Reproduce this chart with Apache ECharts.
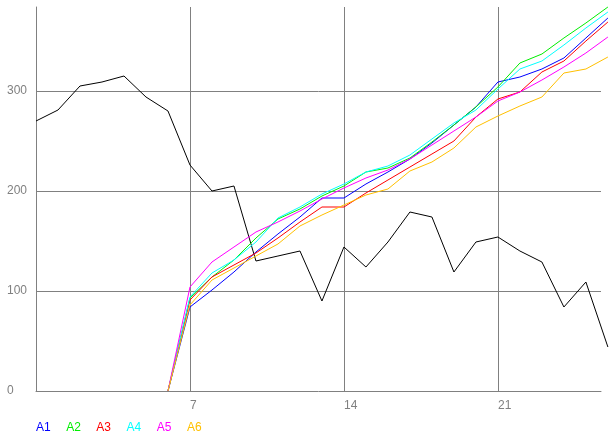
<!DOCTYPE html>
<html>
<head>
<meta charset="utf-8">
<script src="https://cdn.jsdelivr.net/npm/echarts@6/dist/echarts.min.js"></script>
<style>
html,body{margin:0;padding:0;background:#ffffff;}
#chart{width:614px;height:440px;}
</style>
</head>
<body>
<div id="chart"></div>
<script>
const days = [0,1,2,3,4,5,6,7,8,9,10,11,12,13,14,15,16,17,18,19,20,21,22,23,24,25,26];
const blackSeries = [270,281,305,309,315,294,280,226,200,205,130,135,140,90,144,124,149,179,174,119,149,154,140,129,84,109,44];
const A1 = [null,null,null,null,null,null,0,84,101,119,139,157,174,193,193,207,219,232,248,266,284,309,314,322,333,353,373];
const A2 = [null,null,null,null,null,null,0,93,114,131,153,172,182,195,205,219,223,233,249,266,284,304,328,337,353,368,384];
const A3 = [null,null,null,null,null,null,0,91,114,126,138,153,169,184,184,198,211,224,237,250,274,292,299,319,330,350,369];
const A4 = [null,null,null,null,null,null,0,94,118,131,149,173,184,197,207,219,225,236,252,268,281,302,322,330,346,363,379];
const A5 = [null,null,null,null,null,null,0,104,129,144,159,169,180,192,203,213,221,232,246,260,274,290,299,311,324,338,354];
const A6 = [null,null,null,null,null,null,0,86,111,123,135,147,165,176,186,196,202,220,229,243,264,275,285,294,318,322,334];
const seriesNames = ['A1','A2','A3','A4','A5','A6'];
const seriesColors = ['#0000ff','#00ee00','#ff0000','#00ffff','#ff00ff','#ffc000'];
const xTickLabels = [7,14,21];
const yTickLabels = [0,100,200,300];

const colored = [A1,A2,A3,A4,A5,A6];
const toPairs = arr => days.map((d,i) => [d, arr[i]]);

const chart = echarts.init(document.getElementById('chart'), null, {renderer:'canvas'});
const gray = '#808080';
const font = 'Liberation Sans, Arial, sans-serif';
const series = [{
  name: 'B', type: 'line', data: toPairs(blackSeries), showSymbol: false, clip: false,
  xAxisIndex: 1, yAxisIndex: 1,
  lineStyle: {color: '#000000', width: 1}, itemStyle: {color: '#000000'}, silent: true, z: 1
}];
colored.forEach((arr, k) => {
  series.push({
    name: seriesNames[k], type: 'line', data: toPairs(arr), showSymbol: false, clip: false,
    xAxisIndex: 1, yAxisIndex: 1, connectNulls: false, z: 2,
    lineStyle: {color: seriesColors[k], width: 1}, itemStyle: {color: seriesColors[k]}, silent: true
  });
});

chart.setOption({
  animation: false,
  backgroundColor: '#ffffff',
  grid: [
    {left: 36, right: 13, top: 7, bottom: 49, containLabel: false},
    {left: 36, right: 5, top: 7, bottom: 49, containLabel: false}
  ],
  legend: {
    left: 26, top: 416, itemWidth: 0, itemHeight: 14, itemGap: 10.5,
    icon: 'rect', selectedMode: false,
    itemStyle: {opacity: 0}, lineStyle: {opacity: 0},
    textStyle: {fontSize: 12, fontFamily: font},
    data: seriesNames.map((n,k) => ({name: n, textStyle: {color: seriesColors[k]}}))
  },
  xAxis: [{
    gridIndex: 0, type: 'value', min: 0, max: 25.68, interval: 7,
    axisLine: {show: true, lineStyle: {color: gray, width: 1}},
    axisTick: {show: false},
    splitLine: {show: true, showMinLine: false, showMaxLine: false, lineStyle: {color: gray, width: 1}},
    axisLabel: {
      show: true, color: gray, fontSize: 12, fontFamily: font,
      align: 'left', margin: 9, showMinLabel: false, showMaxLabel: false,
      formatter: v => xTickLabels.indexOf(v) >= 0 ? String(v) : ''
    }
  }, {
    gridIndex: 1, type: 'value', min: 0, max: 26.05, show: false,
    splitLine: {show: false}
  }],
  yAxis: [{
    gridIndex: 0, type: 'value', min: 0, max: 384, interval: 100,
    axisLine: {show: true, lineStyle: {color: gray, width: 1}},
    axisTick: {show: false},
    splitLine: {show: true, showMinLine: false, showMaxLine: false, lineStyle: {color: gray, width: 1}},
    axisLabel: {
      show: true, color: gray, fontSize: 12, fontFamily: font,
      align: 'left', margin: 29, showMaxLabel: false, verticalAlign: 'middle', padding: [0,0,12,0],
      formatter: v => yTickLabels.indexOf(v) >= 0 ? String(v) : ''
    }
  }, {
    gridIndex: 1, type: 'value', min: 0, max: 384, show: false,
    splitLine: {show: false}
  }],
  series: series
});
</script>
</body>
</html>
